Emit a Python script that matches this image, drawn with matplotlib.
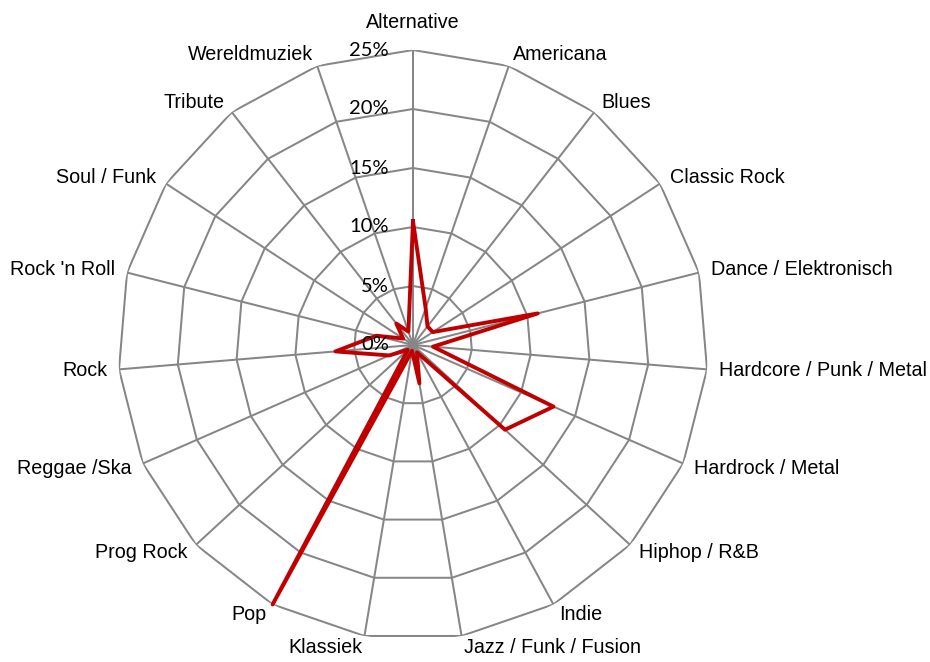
import matplotlib

matplotlib.use("Agg")
import matplotlib.pyplot as plt
import numpy as np


CATEGORIES = [
    "Alternative", "Americana", "Blues", "Classic Rock", "Dance / Elektronisch",
    "Hardcore / Punk / Metal", "Hardrock / Metal", "Hiphop / R&B", "Indie",
    "Jazz / Funk / Fusion", "Klassiek", "Pop", "Prog Rock", "Reggae /Ska",
    "Rock", "Rock 'n Roll", "Soul / Funk", "Tribute", "Wereldmuziek",
]
SHARES = [
    10.5, 3.3, 2.0, 2.0, 10.9,
    1.7, 13.0, 10.6, 0.7,
    3.3, 0.5, 25.0, 0.6, 2.2,
    6.6, 3.2, 1.0, 2.3, 1.2,
]
RINGS = [0, 5, 10, 15, 20, 25]
RING_LABELS = ["0%", "5%", "10%", "15%", "20%", "25%"]

GRID_COLOR = "#868686"
LINE_COLOR = "#C00000"
PX = 0.72  # points per pixel at dpi 100


def main() -> int:
    n = len(CATEGORIES)
    theta = np.arange(n) * 2 * np.pi / n
    theta_closed = np.append(theta, theta[0])

    fig = plt.figure(figsize=(9.3, 6.62), dpi=100)
    cx, cy, r_px = 413, 662 - 345, 295
    ax = fig.add_axes([(cx - r_px) / 930, (cy - r_px) / 662, 2 * r_px / 930, 2 * r_px / 662],
                      projection="polar")
    ax.set_theta_zero_location("N")
    ax.set_theta_direction(-1)
    ax.set_ylim(0, RINGS[-1])
    ax.grid(False)
    ax.spines["polar"].set_visible(False)
    ax.set_xticks([])
    ax.set_yticks([])
    ax.patch.set_visible(False)

    # polygon rings and spokes, like the spreadsheet radar
    for r in RINGS[1:]:
        ax.plot(theta_closed, [r] * (n + 1), color=GRID_COLOR, linewidth=1.45, zorder=1)
    for t in theta:
        ax.plot([t, t], [0, RINGS[-1]], color=GRID_COLOR, linewidth=1.45, zorder=1)

    values = np.asarray(SHARES, dtype=float)
    ax.plot(theta_closed, np.append(values, values[0]), color=LINE_COLOR,
            linewidth=2.8, zorder=3, clip_on=False)

    for r, lab in zip(RINGS, RING_LABELS):
        ax.annotate(lab, xy=(0, r), xytext=(-24 * PX, 0), textcoords="offset points",
                    ha="right", va="center", fontsize=14.5, family=["Lato", "DejaVu Sans"],
                    color="#000000", zorder=4)

    for i, (t, name) in enumerate(zip(theta, CATEGORIES)):
        s, c = np.sin(t), np.cos(t)
        off = 28 if i == 0 else 12
        if s > 0.1:
            ha = "left"
        elif s < -0.1:
            ha = "right"
        else:
            ha = "center"
        ax.annotate(name, xy=(t, RINGS[-1]), xytext=(off * s * PX, off * c * PX),
                    textcoords="offset points", ha=ha, va="center", fontsize=14.2,
                    family=["Liberation Sans", "DejaVu Sans"], color="#000000",
                    annotation_clip=False)

    fig.savefig("out.png", dpi=100)
    plt.close(fig)
    return 0


if __name__ == "__main__":
    raise SystemExit(main())
